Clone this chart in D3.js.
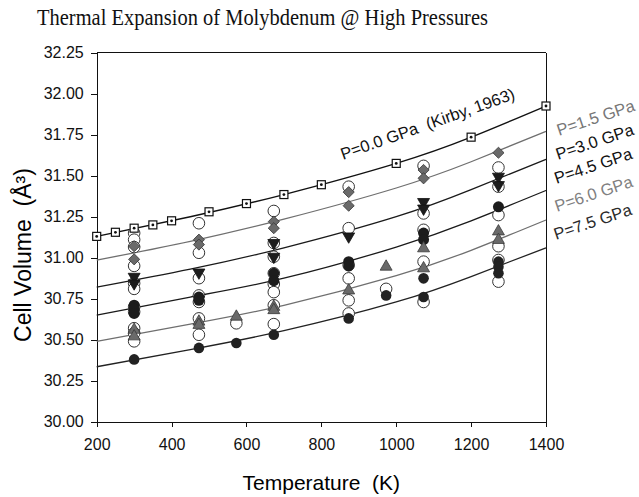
<!DOCTYPE html>
<meta charset="utf-8">
<script src="https://d3js.org/d3.v7.min.js"></script>
<style>
  body { margin: 0; background: #fff; }
  text { font-family: "Liberation Sans", Arial, sans-serif; }
  .axis path, .axis line { stroke: #111; stroke-width: 1px; shape-rendering: crispEdges; }
  .axis text { font-size: 16px; fill: #111; }
</style>
<div id="chart"></div>
<script>
var fitT = [200, 450, 700, 1000, 1200, 1400];
// fitted cell volume curves (A^3), one per pressure
var fitP00 = [31.13, 31.25, 31.385, 31.575, 31.735, 31.925];
var fitP15 = [30.985, 31.10, 31.235, 31.425, 31.585, 31.77];
var fitP30 = [30.82, 30.93, 31.06, 31.25, 31.415, 31.60];
var fitP45 = [30.65, 30.76, 30.875, 31.065, 31.225, 31.41];
var fitP60 = [30.49, 30.595, 30.71, 30.89, 31.045, 31.23];
var fitP75 = [30.335, 30.44, 30.555, 30.73, 30.885, 31.06];

// Kirby (1963) ambient pressure data
var kirby = [[200,31.13],[250,31.155],[300,31.18],[350,31.20],[400,31.225],[500,31.28],
             [600,31.33],[700,31.385],[800,31.445],[1000,31.575],[1200,31.735],[1400,31.925]];
// measured points
var openPts = [[300,31.15],[300,31.11],[300,31.065],[300,30.95],[300,30.844],[300,30.81],
               [300,30.70],[300,30.67],[300,30.57],[300,30.54],[300,30.49],
               [473,31.21],[473,31.03],[473,30.875],[473,30.77],[473,30.73],[473,30.63],[473,30.53],
               [573,30.60],
               [673,31.285],[673,31.09],[673,31.006],[673,30.905],[673,30.84],[673,30.79],[673,30.71],[673,30.595],
               [873,31.433],[873,31.18],[873,30.955],[873,30.874],[873,30.74],[873,30.66],
               [973,30.81],
               [1073,31.56],[1073,31.27],[1073,31.17],[1073,30.976],[1073,30.73],
               [1273,31.55],[1273,31.433],[1273,31.26],[1273,31.07],[1273,30.986],[1273,30.854]];
var p15 = [[300,31.07],[300,30.99],[473,31.11],[473,31.08],[673,31.22],[673,31.18],
           [873,31.40],[873,31.317],[1073,31.535],[1073,31.484],[1273,31.64]];
var p30 = [[300,30.884],[300,30.844],[473,30.91],[673,31.09],[673,31.006],[873,31.13],
           [1073,31.34],[1073,31.30],[1273,31.494],[1273,31.443]];
var p45 = [[300,30.71],[300,30.685],[300,30.66],[473,30.76],[473,30.74],[673,30.905],[673,30.86],
           [873,30.976],[873,30.95],[1073,31.15],[1073,31.11],[1273,31.31]];
var p60 = [[300,30.56],[300,30.52],[473,30.61],[473,30.59],[573,30.64],[673,30.70],[673,30.68],
           [873,30.80],[973,30.945],[1073,31.057],[1073,30.935],[1273,31.16],[1273,31.108]];
var p75 = [[300,30.38],[473,30.45],[573,30.48],[673,30.53],[873,30.63],[973,30.77],
           [1073,30.874],[1073,30.76],[1273,30.976],[1273,30.945],[1273,30.905]];

var xTicks = [200, 400, 600, 800, 1000, 1200, 1400];
var yTicks = [30.00, 30.25, 30.50, 30.75, 31.00, 31.25, 31.50, 31.75, 32.00, 32.25];

var W = 639, H = 497;
var svg = d3.select("#chart").append("svg")
    .attr("width", W).attr("height", H);

var x = d3.scaleLinear().domain([200, 1400]).range([96.7, 546]);
var y = d3.scaleLinear().domain([30, 32.25]).range([421.7, 52.7]);

// title
svg.append("text")
  .attr("x", 37).attr("y", 25)
  .attr("textLength", 451).attr("lengthAdjust", "spacingAndGlyphs")
  .style("font-family", "'Liberation Serif', 'Times New Roman', serif")
  .style("font-size", "23px")
  .attr("fill", "#111")
  .text("Thermal Expansion of Molybdenum @ High Pressures");

// frame top + right
svg.append("line").attr("x1", x(200)).attr("x2", x(1400)).attr("y1", y(32.25)).attr("y2", y(32.25))
  .attr("stroke", "#111").style("shape-rendering", "crispEdges");
svg.append("line").attr("x1", x(1400)).attr("x2", x(1400)).attr("y1", y(32.25)).attr("y2", y(30))
  .attr("stroke", "#111").style("shape-rendering", "crispEdges");

// axes
svg.append("g").attr("class", "axis")
  .attr("transform", "translate(0," + y(30) + ")")
  .call(d3.axisBottom(x).tickValues(xTicks).tickSize(5).tickPadding(12).tickFormat(d3.format("d")));
svg.append("g").attr("class", "axis")
  .attr("transform", "translate(" + x(200) + ",0)")
  .call(d3.axisLeft(y).tickValues(yTicks).tickSize(6).tickPadding(7).tickFormat(d3.format(".2f")));

// axis titles
svg.append("text")
  .attr("x", (x(200) + x(1400)) / 2).attr("y", 490)
  .attr("text-anchor", "middle")
  .style("font-size", "21px").style("white-space", "pre")
  .text("Temperature  (K)");
svg.append("text")
  .attr("transform", "translate(31,255) rotate(-90)")
  .attr("text-anchor", "middle")
  .style("font-size", "23px").style("white-space", "pre")
  .text("Cell Volume  (Å³)");

// fitted curves
var curves = [
  {v: fitP00, c: "#111", w: 1.4},
  {v: fitP15, c: "#6f6f6f", w: 1.3},
  {v: fitP30, c: "#1a1a1a", w: 1.3},
  {v: fitP45, c: "#1a1a1a", w: 1.3},
  {v: fitP60, c: "#6f6f6f", w: 1.3},
  {v: fitP75, c: "#222", w: 1.3}
];
var line = d3.line().curve(d3.curveNatural)
  .x(function(d) { return x(d[0]); })
  .y(function(d) { return y(d[1]); });
curves.forEach(function(cv) {
  svg.append("path")
    .datum(fitT.map(function(t, i) { return [t, cv.v[i]]; }))
    .attr("d", line)
    .attr("fill", "none")
    .attr("stroke", cv.c)
    .attr("stroke-width", cv.w);
});

function tr(d) { return "translate(" + x(d[0]) + "," + y(d[1]) + ")"; }

// open circles (behind)
svg.selectAll(".open").data(openPts).enter().append("circle")
  .attr("class", "open")
  .attr("cx", function(d) { return x(d[0]); })
  .attr("cy", function(d) { return y(d[1]); })
  .attr("r", 5.8)
  .attr("fill", "#fff").attr("stroke", "#333").attr("stroke-width", 1);

// P=1.5 diamonds (square turned 45deg)
svg.selectAll(".dia").data(p15).enter().append("path")
  .attr("class", "dia")
  .attr("transform", function(d) { return tr(d) + " rotate(45)"; })
  .attr("d", d3.symbol(d3.symbolSquare, 62))
  .attr("fill", "#6a6a6a").attr("stroke", "#3a3a3a").attr("stroke-width", 0.8);

// P=3.0 down triangles
svg.selectAll(".tdn").data(p30).enter().append("path")
  .attr("class", "tdn")
  .attr("transform", function(d) { return tr(d) + " rotate(180)"; })
  .attr("d", d3.symbol(d3.symbolTriangle, 62))
  .attr("fill", "#1c1c1c").attr("stroke", "#111").attr("stroke-width", 0.8);

// P=4.5 filled circles
svg.selectAll(".fc").data(p45).enter().append("circle")
  .attr("class", "fc")
  .attr("cx", function(d) { return x(d[0]); })
  .attr("cy", function(d) { return y(d[1]); })
  .attr("r", 5.5)
  .attr("fill", "#1c1c1c");

// P=6.0 up triangles
svg.selectAll(".tup").data(p60).enter().append("path")
  .attr("class", "tup")
  .attr("transform", tr)
  .attr("d", d3.symbol(d3.symbolTriangle, 62))
  .attr("fill", "#6a6a6a").attr("stroke", "#3a3a3a").attr("stroke-width", 0.8);

// P=7.5 filled circles
svg.selectAll(".fh").data(p75).enter().append("circle")
  .attr("class", "fh")
  .attr("cx", function(d) { return x(d[0]); })
  .attr("cy", function(d) { return y(d[1]); })
  .attr("r", 5.3)
  .attr("fill", "#222");

// Kirby squares
var sq = svg.selectAll(".sq").data(kirby).enter().append("g")
  .attr("class", "sq").attr("transform", tr);
sq.append("rect").attr("x", -4).attr("y", -4).attr("width", 8).attr("height", 8)
  .attr("fill", "#fff").attr("stroke", "#111").attr("stroke-width", 1.2);
sq.append("circle").attr("r", 1.4).attr("fill", "#111");

// labels
svg.append("text")
  .attr("transform", "translate(343,160) rotate(-19.5)")
  .style("font-size", "16.5px").style("white-space", "pre")
  .attr("fill", "#111")
  .text("P=0.0 GPa  (Kirby, 1963)");

var labels = [
  {t: "P=1.5 GPa", x: 559, y: 136, c: "#777"},
  {t: "P=3.0 GPa", x: 558, y: 160, c: "#111"},
  {t: "P=4.5 GPa", x: 556.5, y: 184, c: "#111"},
  {t: "P=6.0 GPa", x: 557, y: 212, c: "#808080"},
  {t: "P=7.5 GPa", x: 556, y: 240, c: "#2a2a2a"}
];
labels.forEach(function(l) {
  svg.append("text")
    .attr("transform", "translate(" + l.x + "," + l.y + ") rotate(-18.5)")
    .style("font-size", "16.5px")
    .attr("fill", l.c)
    .text(l.t);
});
</script>
